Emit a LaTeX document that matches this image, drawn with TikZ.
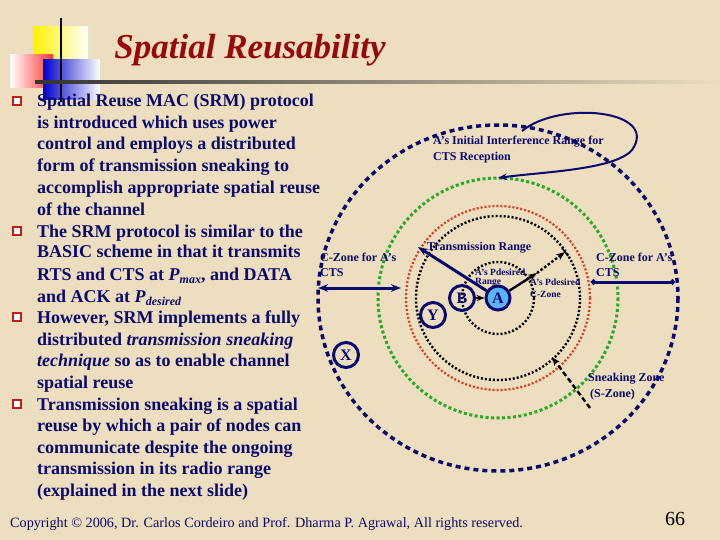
\documentclass[tikz,border=0pt]{standalone}
\usepackage{fontspec}
\setmainfont{Liberation Serif}
\usetikzlibrary{arrows.meta,calc}
\definecolor{bg}{RGB}{236,222,190}
\definecolor{navy}{RGB}{10,10,110}
\definecolor{title}{RGB}{150,10,10}
\definecolor{bul}{RGB}{190,30,30}
\definecolor{grn}{RGB}{40,170,40}
\definecolor{rdt}{RGB}{220,60,30}
\definecolor{afill}{RGB}{90,180,250}
\newcommand\Psub[1]{\textit{P}\raisebox{-3pt}{\fontsize{12}{12}\selectfont\textit{#1}}}
\tikzset{
 body/.style={anchor=base west,font=\fontsize{18}{18}\selectfont\bfseries,text=navy,inner sep=0},
 bull/.style={draw=bul,fill=white,line width=2pt,minimum size=8pt,inner sep=0},
 lab/.style={anchor=base west,font=\fontsize{12}{12}\selectfont\bfseries,text=navy,inner sep=0},
 slab/.style={anchor=base west,font=\fontsize{9.5}{10}\selectfont\bfseries,text=navy,inner sep=0},
 nd/.style={circle,draw=navy,line width=3pt,minimum size=25pt,inner sep=0,font=\fontsize{16}{16}\selectfont\bfseries,text=navy},
}
\begin{document}
\begin{tikzpicture}[x=1pt,y=-1pt]
\useasboundingbox (0,0) rectangle (720,540);
\fill[bg] (0,0) rectangle (720,540);
% logo
\shade[left color=yellow!90!orange,right color=white] (33,27) rectangle (88,62);
\shade[left color=white,right color=red!80] (10,55) rectangle (53,88);
\shade[left color=blue!80!black,right color=white] (43,60) rectangle (100,100);
\draw[line width=2pt] (61,18) -- (61,102);
\shade[left color=black!80,right color=bg] (35,81) rectangle (720,84);
\node[font=\fontsize{35}{35}\selectfont\bfseries\itshape,text=title] (t) at (250,50) {Spatial Reusability};
% text
\foreach \y/\t [count=\i] in {107/Spatial Reuse MAC (SRM) protocol,129/is introduced which uses power,150/control and employs a distributed,172/form of transmission sneaking to,194/accomplish appropriate spatial reuse,215/of the channel,237/The SRM protocol is similar to the,258/BASIC scheme in that it transmits,280/{RTS and CTS at \Psub{max}, and DATA},302/{and ACK at \Psub{desired}},323/{However, SRM implements a fully},345/{distributed \textit{transmission sneaking}},366/{\textit{technique} so as to enable channel},388/spatial reuse,410/Transmission sneaking is a spatial,431/reuse by which a pair of nodes can,453/communicate despite the ongoing,474/transmission in its radio range,496/(explained in the next slide)}
  \node[body] (l\i) at (37,\y) {\t};
\foreach \y [count=\i] in {107,237,323,410} \node[bull] (b\i) at (17,\y-6) {};
% diagram
\coordinate (A0) at (498,298);
\draw[navy,line width=3.5pt,dash pattern=on 5pt off 4pt] (A0) ellipse [x radius=180,y radius=173];
\draw[grn,line width=3pt,dash pattern=on 3pt off 2.5pt] (A0) circle (120);
\draw[rdt,line width=2.2pt,dash pattern=on 2pt off 2pt] (A0) circle (92);
\draw[black,line width=2.4pt,dash pattern=on 2pt off 2pt] (A0) circle (82);
\draw[black,line width=2.4pt,dash pattern=on 2pt off 2pt] (A0) circle (36);
\node[nd,fill=afill,minimum size=24pt] (A) at (498,298) {A};
\node[nd] (B) at (462,298) {B};
\node[nd] (Y) at (433,315) {Y};
\node[nd] (X) at (346,355) {X};
\draw[-{Stealth[length=8pt]},line width=2.2pt] (B) -- (A);
\coordinate (tr) at (418,247);
\draw[navy,line width=3pt,-{Stealth[length=10pt]}] (A) -- (tr);
\coordinate (p1) at (537,273);
\coordinate (p2) at (565,252);
\draw[line width=2.4pt,-{Stealth[length=9pt]}] (A) -- (p1);
\draw[line width=2.4pt,dash pattern=on 2.5pt off 2pt,-{Stealth[length=9pt]}] (p1) -- (p2);
\draw[line width=1.5pt] ($(p2)+(-3,-4)$) -- ($(p2)+(3,4)$);
\coordinate (cl1) at (318,288); \coordinate (cl2) at (401,288);
\draw[navy,line width=3pt,{Stealth[length=10pt]}-{Stealth[length=10pt]}] (cl1) -- (cl2);
\coordinate (cr1) at (591,282); \coordinate (cr2) at (675,282);
\draw[navy,line width=3pt,{Circle[length=5pt]}-{Circle[length=5pt]}] (cr1) -- (cr2);
\coordinate (s1) at (590,408); \coordinate (s2) at (552,357);
\draw[line width=2.4pt,dash pattern=on 5pt off 3pt,-{Stealth[length=9pt]}] (s1) -- (s2);
\coordinate (c0) at (522,131); \coordinate (c1) at (498,178);
\draw[navy,line width=2pt,-{Stealth[length=9pt]}] (c0) .. controls (560,100) and (660,110) .. (632,150) .. controls (615,170) and (540,172) .. (c1);
\node[lab] (ir) at (433,145) {A’s Initial Interference Range for};
\node[lab] (ir2) at (433,161) {CTS Reception};
\node[lab,font=\fontsize{12}{12}\selectfont\bfseries] (trl) at (427,251) {Transmission Range};
\node[slab] (pr1) at (475,275) {A’s Pdesired};
\node[slab] (pr2) at (475,284) {Range};
\node[slab] (pc1) at (530,285) {A’s Pdesired};
\node[slab] (pc2) at (530,297) {C-Zone};
\node[lab] (cz1) at (320,261) {C-Zone for A’s};
\node[lab] (cz2) at (320,276) {CTS};
\node[lab] (cz3) at (596,261) {C-Zone for A’s};
\node[lab] (cz4) at (596,276) {CTS};
\node[lab] (sz1) at (588,381) {Sneaking Zone};
\node[lab] (sz2) at (590,397) {(S-Zone)};
\node[anchor=base west,font=\fontsize{14.2}{14}\selectfont,text=navy,inner sep=0] (cp) at (10,527) {Copyright © 2006, Dr. Carlos Cordeiro and Prof. Dharma P. Agrawal, All rights reserved.};
\node[anchor=base west,font=\fontsize{20}{20}\selectfont,inner sep=0] (pg) at (665,525) {66};
\end{tikzpicture}
\end{document}
